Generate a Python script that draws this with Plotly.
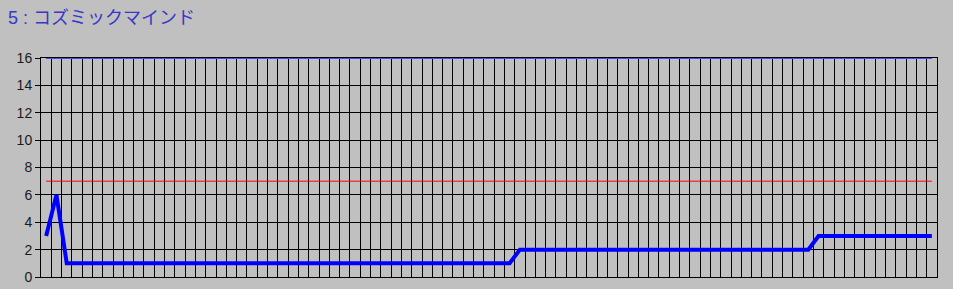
import plotly.graph_objects as go

title_text = "5 : コズミックマインド"

# x positions (one per sample)
x_index = list(range(87))

# main series (blue, thick)
main_values = [
    3, 6, 1, 1, 1, 1, 1, 1, 1, 1,
    1, 1, 1, 1, 1, 1, 1, 1, 1, 1,
    1, 1, 1, 1, 1, 1, 1, 1, 1, 1,
    1, 1, 1, 1, 1, 1, 1, 1, 1, 1,
    1, 1, 1, 1, 1, 1, 2, 2, 2, 2,
    2, 2, 2, 2, 2, 2, 2, 2, 2, 2,
    2, 2, 2, 2, 2, 2, 2, 2, 2, 2,
    2, 2, 2, 2, 2, 3, 3, 3, 3, 3,
    3, 3, 3, 3, 3, 3, 3,
]

# reference line (red) and upper line (blue, thin)
red_values = [7] * 87
top_values = [16] * 87

y_ticks = [0, 2, 4, 6, 8, 10, 12, 14, 16]

fig = go.Figure()
fig.add_trace(go.Scatter(x=x_index, y=top_values, mode="lines",
                         line=dict(color="#4848f0", width=2), hoverinfo="skip"))
fig.add_trace(go.Scatter(x=x_index, y=red_values, mode="lines",
                         line=dict(color="#ff0000", width=1), hoverinfo="skip"))
fig.add_trace(go.Scatter(x=x_index, y=main_values, mode="lines",
                         line=dict(color="#0000ff", width=4), hoverinfo="skip"))

fig.update_layout(
    template="none",
    width=953, height=289,
    autosize=False,
    margin=dict(l=41, r=16, t=58, b=12, pad=0, autoexpand=False),
    paper_bgcolor="#c0c0c0",
    plot_bgcolor="#c0c0c0",
    showlegend=False,
    title=dict(text=title_text, x=8/953, xref="container", xanchor="left",
               y=1 - 18/289, yref="container", yanchor="middle",
               automargin=False,
               font=dict(family="Liberation Sans, Noto Sans CJK JP", size=18,
                         color="#3838c8")),
    xaxis=dict(range=[-0.5, 86.5], tick0=-0.5, dtick=1, showgrid=True,
               gridcolor="#000000", gridwidth=1, showticklabels=False,
               ticks="", zeroline=False, showline=True, linecolor="#000000",
               linewidth=1, mirror=True, fixedrange=True, automargin=False),
    yaxis=dict(range=[0, 16], tickvals=y_ticks, showgrid=True,
               gridcolor="#000000", gridwidth=1, ticks="outside", ticklen=5,
               tickcolor="#000000", tickwidth=1, zeroline=False, showline=True,
               linecolor="#000000", linewidth=1, mirror=True,
               tickfont=dict(family="Liberation Sans", size=14, color="#1a1a1a"),
               fixedrange=True, automargin=False),
)

fig.write_html("out.html")
